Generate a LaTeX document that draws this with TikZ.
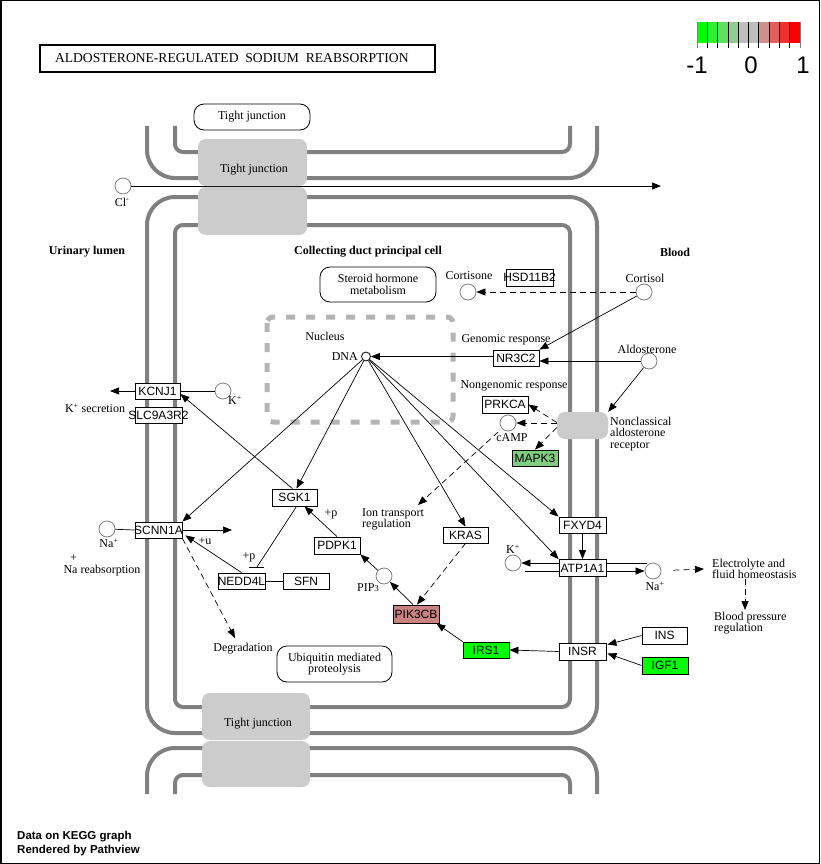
\documentclass[tikz,border=0pt]{standalone}
\usepackage{fontspec}
\setmainfont{Liberation Serif}
\newfontfamily\genefam{Liberation Sans}
\usetikzlibrary{arrows.meta,calc}
\definecolor{memgray}{HTML}{808080}
\definecolor{jgray}{HTML}{CCCCCC}
\definecolor{nucgray}{HTML}{B4B4B4}
\definecolor{upgreen}{HTML}{00FF00}
\definecolor{midgreen}{HTML}{80CC80}
\definecolor{pinkred}{HTML}{C98282}
\tikzset{
  mem/.style={draw=memgray, line width=4pt},
  conn/.style={line width=0.7pt},
  arr/.style={conn, -{Triangle[length=9pt,width=7pt]}},
  darr/.style={arr, dash pattern=on 6pt off 4pt},
  gene/.style={draw, line width=0.8pt, fill=white, inner sep=0pt, minimum width=46pt, minimum height=17pt, font=\genefam\fontsize{12}{12}\selectfont},
  cpd/.style={circle, draw=memgray, line width=0.8pt, fill=white, minimum size=16pt, inner sep=0pt},
  lab/.style={inner sep=0pt, font=\fontsize{12}{11.5}\selectfont},
  blab/.style={inner sep=0pt, font=\fontsize{12}{11.5}\selectfont\bfseries},
  jbox/.style={fill=jgray, rounded corners=8pt},
  mapbox/.style={draw, line width=0.8pt, rounded corners=10pt, inner sep=0pt, align=center, font=\fontsize{12}{11.5}\selectfont},
}
\begin{document}
\begin{tikzpicture}[x=1pt,y=-1pt]
\useasboundingbox (0,0) rectangle (820,864);
\draw[line width=1.5pt] (0.75,0.75) rectangle (819.25,863.25);
% title
\node[draw, line width=1.5pt, minimum width=395pt, minimum height=27pt, inner sep=0pt, font=\fontsize{13.6}{13.6}\selectfont] (title) at (237.5,58.5) {\makebox[395pt][l]{\hspace{15pt}ALDOSTERONE-REGULATED\ \ SODIUM\ \ REABSORPTION}};
% legend
\foreach \c [count=\i] in {00FF00,30EE30,5FDF5F,90CC90,BEBEBE,BEBEBE,D09090,DF5F5F,EE3030,FF0000} {
  \definecolor{lc}{HTML}{\c}
  \fill[lc] ({697+(\i-1)*10.3},22) rectangle ({697+\i*10.3},43);
}
\foreach \i in {1,...,9} \draw[line width=0.8pt] ({697+\i*10.3},22) -- ({697+\i*10.3},48);
\draw[memgray, line width=0.8pt] (697,22) -- (697,48);
\draw[memgray, line width=0.8pt] (800,22) -- (800,48);
\node[inner sep=0pt, font=\genefam\fontsize{24}{24}\selectfont] (lm1) at (697,65) {-1};
\node[inner sep=0pt, font=\genefam\fontsize{24}{24}\selectfont] (l0) at (751,65) {0};
\node[inner sep=0pt, font=\genefam\fontsize{24}{24}\selectfont] (l1) at (803,65) {1};
% membranes
\draw[mem, rounded corners=28pt] (147,126) -- (147,178) -- (597,178) -- (597,126);
\draw[mem, rounded corners=8pt] (175,126) -- (175,152) -- (570,152) -- (570,126);
\draw[mem, rounded corners=28pt] (147,197) rectangle (597,733);
\draw[mem, rounded corners=8pt] (175,225) rectangle (570,707);
\draw[mem, rounded corners=28pt] (147,794) -- (147,748) -- (597,748) -- (597,794);
\draw[mem, rounded corners=8pt] (175,794) -- (175,775) -- (570,775) -- (570,794);
% Cl line
\node[cpd] (cl) at (123,186) {};
\coordinate (clEnd) at (661,186);
\draw[arr] (cl) -- (clEnd);
\node[lab] (clL) at (122,202) {Cl\textsuperscript{-}};
% tight junctions
\fill[jbox] (198,139) rectangle (307,186);
\fill[jbox] (198,187) rectangle (307,235);
\node[lab] (tj1) at (254,170) {Tight junction};
\fill[jbox] (202,693) rectangle (310,740);
\fill[jbox] (202,741) rectangle (310,787);
\node[lab] (tj2) at (258,724) {Tight junction};
\node[mapbox, minimum width=116pt, minimum height=26pt] (tjtop) at (252,117) {Tight junction};
% region labels
\node[blab] (ul) at (87,252) {Urinary lumen};
\node[blab] (cdl) at (368,252) {Collecting duct principal cell};
\node[blab] (bl) at (675,252) {Blood};
% maps
\node[mapbox, minimum width=116pt, minimum height=35pt] (steroid) at (378,284.5) {Steroid hormone\\metabolism};
\node[mapbox, minimum width=115pt, minimum height=36pt] (ubq) at (334.5,664) {Ubiquitin mediated\\proteolysis};
% nucleus
\draw[nucgray, line width=5pt, dash pattern=on 9pt off 11pt, rounded corners=6pt] (267,317) rectangle (453,422);
\node[lab] (nucL) at (325,336) {Nucleus};
% compounds
\node[cpd] (cortisone) at (468,292) {};
\node[cpd] (cortisol) at (644,292) {};
\node[cpd] (aldo) at (649,361) {};
\node[circle, draw, line width=0.8pt, fill=white, minimum size=9pt, inner sep=0pt] (dna) at (366,356.5) {};
\node[cpd] (camp) at (508,423) {};
\node[cpd] (kL) at (223,391) {};
\node[cpd] (naL) at (107,529) {};
\node[cpd] (pip) at (384,576) {};
\node[cpd] (kR) at (513,563) {};
\node[cpd] (naR) at (653,571) {};
% compound labels
\node[lab, anchor=east] (dnaL) at (358,357) {DNA};
\node[lab] (cortisoneL) at (469,276) {Cortisone};
\node[lab] (cortisolL) at (645,278) {Cortisol};
\node[lab] (aldoL) at (647,349) {Aldosterone};
\node[lab] (campL) at (512,438) {cAMP};
\node[lab] (kLL) at (235,400) {K\textsuperscript{+}};
\node[lab] (ksec) at (95,408) {K\textsuperscript{+} secretion};
\node[lab] (naLL) at (109,543) {Na\textsuperscript{+}};
\node[lab, anchor=base] (nareab) at (102,573) {Na\llap{\raisebox{2.1ex}{+}\hspace{0.5pt}} reabsorption};
\node[lab] (naRL) at (655,586) {Na\textsuperscript{+}};
\node[lab] (kRL) at (513,549) {K\textsuperscript{+}};
\node[lab] (pipL) at (368,588) {PIP{\fontsize{9}{9}\selectfont 3}};
\node[lab] (genL) at (506,340) {Genomic response};
\node[lab] (ngenL) at (514,386) {Nongenomic response};
\node[lab, anchor=west, align=left] (recL) at (610,434) {Nonclassical\\aldosterone\\receptor};
\node[lab, anchor=west, align=left] (ionL) at (362,519.5) {Ion transport\\regulation};
\node[lab, anchor=west, align=left] (electro) at (712,569) {Electrolyte and\\fluid homeostasis};
\node[lab, anchor=west, align=left] (bp) at (714,623) {Blood pressure\\regulation};
\node[lab] (degL) at (243,649) {Degradation};
\node[lab] (pu) at (205,541) {+u};
\node[lab] (pp1) at (249,557) {+p};
\node[lab] (pp2) at (331,514) {+p};
% receptor
\node[fill=jgray, rounded corners=8pt, minimum width=51pt, minimum height=27pt, inner sep=0pt] (receptor) at (582.5,425.5) {};
% genes
\node[gene, minimum width=45pt, minimum height=16pt] (kcnj1) at (157.5,391) {\makebox[0pt]{KCNJ1}};
\node[gene, minimum width=47pt, minimum height=16pt] (slc) at (158.5,415) {\makebox[0pt]{SLC9A3R2}};
\node[gene, minimum width=47pt, minimum height=16pt] (scnn) at (158.5,530) {\makebox[0pt]{SCNN1A}};
\node[gene, minimum width=45pt] (sgk1) at (294.5,497.5) {\makebox[0pt]{SGK1}};
\node[gene, minimum width=47pt, minimum height=16pt] (nedd) at (241.5,581) {\makebox[0pt]{NEDD4L}};
\node[gene, minimum height=16pt] (sfn) at (306,581) {\makebox[0pt]{SFN}};
\node[gene] (pdpk1) at (337,545.5) {\makebox[0pt]{PDPK1}};
\node[gene, minimum width=45pt, minimum height=16pt] (kras) at (465.5,535) {\makebox[0pt]{KRAS}};
\node[gene, fill=pinkred, minimum height=18pt] (pik) at (416,614) {\makebox[0pt]{PIK3CB}};
\node[gene, fill=upgreen, minimum height=16pt] (irs1) at (486,650) {\makebox[0pt]{IRS1}};
\node[gene, minimum width=47pt] (insr) at (582.5,651.5) {\makebox[0pt]{INSR}};
\node[gene, minimum width=45pt] (ins) at (664.5,635.5) {\makebox[0pt]{INS}};
\node[gene, fill=upgreen] (igf1) at (665,665.5) {\makebox[0pt]{IGF1}};
\node[gene, minimum width=47pt, minimum height=16pt] (fxyd4) at (582.5,525) {\makebox[0pt]{FXYD4}};
\node[gene, minimum width=47pt] (atp) at (582.5,568) {\makebox[0pt]{ATP1A1}};
\node[gene, minimum height=16pt] (nr3c2) at (516,358) {\makebox[0pt]{NR3C2}};
\node[gene] (prkca) at (505,404.5) {\makebox[0pt]{PRKCA}};
\node[gene, fill=midgreen, minimum height=16pt] (mapk3) at (535,458) {\makebox[0pt]{MAPK3}};
\node[gene, minimum width=47pt] (hsd) at (529.5,277.5) {\makebox[0pt]{HSD11B2}};
% free ends
\coordinate (ionEnd) at (418,505);
\coordinate (barC) at (257,567);
\coordinate (degEnd) at (235,638);
\coordinate (naIn) at (232,530);
\coordinate (kSec) at (110,391);
\coordinate (kLow) at (525,571);
\coordinate (naTop) at (647,563);
\coordinate (bpArrow) at (745,610);
% connectors
\draw[darr] (cortisol) -- (cortisone);
\draw[arr] (cortisol) -- (nr3c2.north east);
\draw[arr] (aldo) -- (aldo -| nr3c2.east);
\draw[arr] (aldo) -- (receptor.north east);
\draw[arr] (nr3c2.west |- dna) -- (dna);
\draw[darr] (receptor.west |- camp) -- (camp);
\draw[darr] ($(receptor.west)+(0,-3)$) -- (prkca.east);
\draw[darr] ($(receptor.west)+(0,2)$) -- (mapk3.north);
\draw[darr, shorten <=5pt] (camp) -- (ionEnd);
\draw[arr] (dna) -- (scnn.north east);
\draw[arr] (dna) -- ($(sgk1.north)+(2,0)$);
\draw[arr] (dna) -- (kras.north);
\draw[arr] (dna) -- (fxyd4.north west);
\draw[arr] (dna) -- (atp.north west);
\draw[arr] ($(sgk1.north)+(-2,0)$) -- ($(kcnj1.east)+(0,3)$);
\draw[arr] (pdpk1.north) -- ($(sgk1.south)+(10,0)$);
\draw[conn] ($(sgk1.south)+(2,0)$) -- (barC);
\draw[conn] ($(barC)+(-8,0)$) -- ($(barC)+(7,0)$);
\draw[arr] (nedd.north) -- ($(scnn.south east)+(3,-3)$);
\draw[darr] (scnn.south east) -- (degEnd);
\draw[arr] (scnn.east) -- (naIn);
\draw[conn] (naL) -- (scnn.west);
\draw[conn] (kL) -- (kcnj1.east);
\draw[arr] (kcnj1.west) -- (kSec);
\draw[conn] (nedd.east) -- (sfn.west);
\draw[arr] (pip) -- (pdpk1.south east);
\draw[arr] ($(pik.north)+(-3,0)$) -- (pip);
\draw[darr] (kras.south) -- ($(pik.north)+(1,0)$);
\draw[arr] (irs1.north west) -- ($(pik.south east)+(-3,0)$);
\draw[arr] (insr.west) -- (irs1.east);
\draw[arr] (ins.west) -- ($(insr.north east)+(1,2)$);
\draw[arr] (igf1.west) -- ($(insr.east)+(1,2)$);
\draw[arr] (fxyd4.south) -- (atp.north);
\draw[arr] (atp.west |- kR) -- (kR);
\draw[conn] (atp.west |- kLow) -- (kLow);
\draw[conn] (atp.east |- kR) -- (naTop);
\draw[arr] (atp.east |- naR) -- (naR);
\draw[darr, shorten <=12pt] (naR) -- ($(electro.west)+(-8,0)$);
\draw[darr] (electro.south -| bpArrow) -- (bpArrow);
% footer
\node[anchor=west, inner sep=0pt, font=\genefam\bfseries\fontsize{11.5}{11.5}\selectfont] (foot1) at (17,837) {Data on KEGG graph};
\node[anchor=west, inner sep=0pt, font=\genefam\bfseries\fontsize{11.5}{11.5}\selectfont] (foot2) at (17,851) {Rendered by Pathview};
\end{tikzpicture}
\end{document}
